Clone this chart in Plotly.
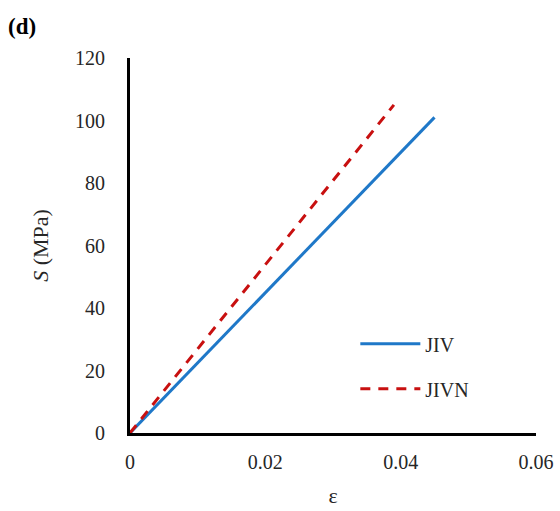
import plotly.graph_objects as go

strain_jiv = [0, 0.005, 0.01, 0.015, 0.02, 0.025, 0.03, 0.035, 0.04, 0.045]
stress_jiv = [0, 11.2, 22.5, 33.7, 44.9, 56.1, 67.3, 78.6, 89.8, 101.0]
strain_jivn = [0, 0.005, 0.01, 0.015, 0.02, 0.025, 0.03, 0.035, 0.039]
stress_jivn = [0, 13.5, 27.0, 40.5, 54.0, 67.4, 80.8, 94.3, 105.0]

x_ticks = [0, 0.02, 0.04, 0.06]
x_tick_text = ["0", "0.02", "0.04", "0.06"]
y_ticks = [0, 20, 40, 60, 80, 100, 120]

FONT = "Liberation Serif, Times New Roman, serif"

fig = go.Figure()
fig.add_trace(go.Scatter(x=strain_jiv, y=stress_jiv, mode="lines", name="JIV",
                         legendgroup="a",
                         line=dict(color="#1f78c8", width=3)))
fig.add_trace(go.Scatter(x=strain_jivn, y=stress_jivn, mode="lines", name="JIVN",
                         legendgroup="b",
                         line=dict(color="#c81010", width=3, dash="10px,8px")))

fig.update_layout(
    width=560, height=511,
    margin=dict(l=130, r=24, t=58, b=78),
    paper_bgcolor="white", plot_bgcolor="white",
    font=dict(family=FONT, size=20, color="#262626"),
    showlegend=True,
    legend=dict(x=0.555, y=0.29, xanchor="left", yanchor="top",
                bgcolor="rgba(0,0,0,0)", font=dict(family=FONT, size=20, color="#262626"),
                tracegroupgap=16, itemwidth=60),
    xaxis=dict(range=[0, 0.06], tickvals=x_ticks, ticktext=x_tick_text,
               showgrid=False, zeroline=False, showline=True, linecolor="black",
               linewidth=3, ticks="", ticklabelstandoff=9, automargin=False,
               title=dict(text="ε", font=dict(family=FONT, size=22), standoff=16)),
    yaxis=dict(range=[0, 120], tickvals=y_ticks,
               showgrid=False, zeroline=False, showline=True, linecolor="black",
               linewidth=3, ticks="", ticklabelstandoff=18, automargin=False,
               title=dict(text="<i>S</i> (MPa)", font=dict(family=FONT, size=22), standoff=21)),
    annotations=[dict(text="<b>(d)</b>", x=0, y=1, xref="paper", yref="paper",
                      xshift=-124, yshift=46, showarrow=False,
                      xanchor="left", yanchor="top",
                      font=dict(family=FONT, size=23, color="black"))],
)

fig.write_html("out.html")
